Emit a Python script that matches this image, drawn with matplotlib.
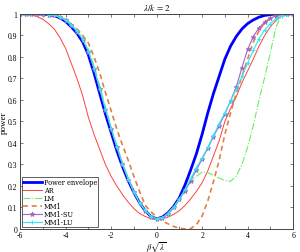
import numpy as np
import matplotlib
matplotlib.use("Agg")
import matplotlib.pyplot as plt
from matplotlib.ticker import MultipleLocator, FuncFormatter

plt.rcParams['font.family'] = ['Liberation Serif', 'DejaVu Serif']
plt.rcParams['mathtext.fontset'] = 'stix'
plt.rcParams['axes.unicode_minus'] = False

# sample positions (beta * sqrt(lambda))
x = np.linspace(-6, 6, 49)

# power curves, values at x = -6, -5.75, ..., 6
envelope = [1, 1, 1, 1, 0.999, 0.997, 0.992, 0.982, 0.965, 0.94, 0.91, 0.87,
            0.81, 0.725, 0.63, 0.535, 0.45, 0.365, 0.29, 0.225, 0.17, 0.122, 0.085, 0.058,
            0.047,
            0.055, 0.075, 0.105, 0.145, 0.205, 0.275, 0.35, 0.44, 0.54, 0.63, 0.71, 0.79,
            0.85, 0.895, 0.93, 0.955, 0.972, 0.985, 0.993, 0.997, 1, 1, 1, 1]
ar = [1, 0.998, 0.995, 0.987, 0.975, 0.955, 0.93, 0.89, 0.84, 0.77, 0.7, 0.62,
      0.52, 0.44, 0.37, 0.3, 0.245, 0.2, 0.16, 0.125, 0.095, 0.072, 0.058, 0.048,
      0.044,
      0.046, 0.055, 0.068, 0.085, 0.11, 0.14, 0.175, 0.215, 0.27, 0.34, 0.41, 0.5,
      0.56, 0.615, 0.68, 0.735, 0.79, 0.85, 0.9, 0.94, 0.97, 0.99, 0.998, 1]
lm = [1, 1, 1, 1, 0.999, 0.998, 0.995, 0.988, 0.975, 0.955, 0.928, 0.89,
      0.835, 0.76, 0.665, 0.57, 0.475, 0.39, 0.31, 0.235, 0.175, 0.125, 0.087, 0.06,
      0.048,
      0.055, 0.075, 0.105, 0.14, 0.18, 0.22, 0.245, 0.265, 0.262, 0.25, 0.237, 0.225,
      0.222, 0.245, 0.3, 0.38, 0.48, 0.6, 0.705, 0.82, 0.94, 0.995, 1, 1]
mm1 = [1, 1, 1, 0.999, 0.998, 0.997, 0.995, 0.987, 0.972, 0.95, 0.93, 0.9,
       0.865, 0.8, 0.725, 0.635, 0.55, 0.465, 0.39, 0.32, 0.245, 0.175, 0.11, 0.08,
       0.055,
       0.038, 0.024, 0.012, 0.004, 0.0, 0.002, 0.02, 0.06, 0.13, 0.22, 0.32, 0.44,
       0.54, 0.63, 0.71, 0.79, 0.87, 0.92, 0.96, 0.978, 0.992, 0.999, 1, 1]
mm1_su = [1, 1, 1, 1, 0.999, 0.997, 0.993, 0.985, 0.97, 0.947, 0.918, 0.88,
          0.825, 0.745, 0.65, 0.555, 0.465, 0.38, 0.3, 0.23, 0.17, 0.12, 0.085, 0.058,
          0.047,
          0.053, 0.07, 0.1, 0.138, 0.178, 0.225, 0.275, 0.325, 0.375, 0.43, 0.48, 0.535,
          0.595, 0.66, 0.75, 0.835, 0.895, 0.935, 0.962, 0.98, 0.992, 0.998, 1, 1]
mm1_lu = [1, 1, 1, 1, 0.999, 0.997, 0.993, 0.985, 0.97, 0.948, 0.92, 0.882,
          0.828, 0.748, 0.653, 0.558, 0.468, 0.382, 0.302, 0.232, 0.172, 0.122, 0.086, 0.058,
          0.047,
          0.053, 0.07, 0.1, 0.14, 0.185, 0.235, 0.285, 0.33, 0.38, 0.435, 0.49, 0.54,
          0.595, 0.65, 0.71, 0.77, 0.83, 0.885, 0.925, 0.955, 0.978, 0.992, 0.998, 1]

fig = plt.figure(figsize=(3.0, 2.53), dpi=100)
ax = fig.add_axes([0.067, 0.091, 0.91, 0.85])

ax.plot(x, envelope, color='#0000ff', lw=2.0, label='Power envelope')
ax.plot(x, ar, color='#ff4040', lw=0.7, label='AR')
ax.plot(x, lm, color='#66ee66', lw=0.8, ls='-.', label='LM')
ax.plot(x, mm1, color='#e08040', lw=1.2, ls=(0, (3, 2.2)), label='MM1')
ax.plot(x, mm1_su, color='#a066c8', lw=0.8, marker='*', ms=3.5, mew=0.6,
        label='MM1-SU')
ax.plot(x, mm1_lu, color='#33e8f0', lw=0.8, marker='+', ms=3.5, mew=0.8,
        label='MM1-LU')

ax.set_xlim(-6, 6)
ax.set_ylim(0, 1)
ax.set_xticks([-6, -4, -2, 0, 2, 4, 6])
ax.xaxis.set_minor_locator(MultipleLocator(1))
ax.set_yticks(np.linspace(0, 1, 11))
ax.yaxis.set_major_formatter(FuncFormatter(lambda v, p: '%g' % round(v, 1)))
ax.tick_params(which='both', direction='in', top=True, right=True,
               labelsize=5.5, pad=2, width=0.5, color='#444444', length=2.5)
ax.tick_params(axis='x', pad=1.5)
for s in ax.spines.values():
    s.set_linewidth(0.7)
    s.set_color('#444444')

ax.set_title(r'$\lambda/k\,=\,2$', fontsize=6.5, pad=3)
ax.set_xlabel(r'$\beta\sqrt{\lambda}$', fontsize=6)
ax.xaxis.set_label_coords(0.5, -0.05)
ax.set_ylabel('power', fontsize=6.5)
ax.yaxis.set_label_coords(-0.045, 0.5)

leg = ax.legend(loc='lower left', prop={'family': 'DejaVu Serif', 'size': 4.8},
                labelspacing=0.0, handlelength=2.8, handletextpad=0.3,
                borderpad=0.2, borderaxespad=0.25, fancybox=False, framealpha=1)
leg.get_frame().set_edgecolor('#444444')
leg.get_frame().set_linewidth(0.6)

fig.savefig('out.png', dpi=100)
